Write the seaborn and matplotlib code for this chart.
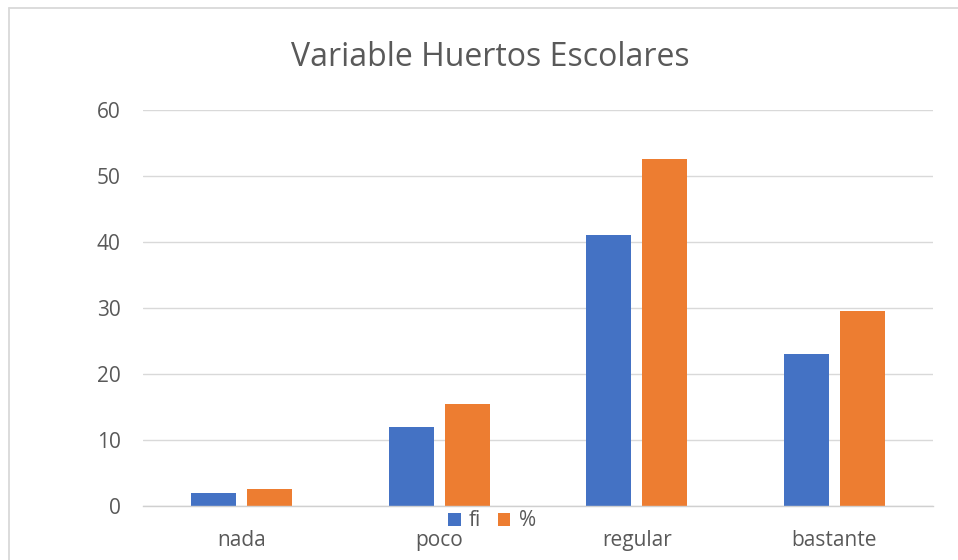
import matplotlib
matplotlib.use("Agg")
import matplotlib.pyplot as plt
import seaborn as sns
import pandas as pd
from matplotlib.lines import Line2D
from matplotlib.patches import Patch

categories = ["nada", "poco", "regular", "bastante"]
fi_values = [2, 12, 41, 23]
pct_values = [2.56, 15.38, 52.56, 29.49]
series_names = ["fi", "%"]
y_ticks = [0, 10, 20, 30, 40, 50, 60]
title = "Variable Huertos Escolares"

colors = ["#4472C4", "#ED7D31"]
text_color = "#595959"

df = pd.DataFrame({
    "cat": categories * 2,
    "serie": [series_names[0]] * len(categories) + [series_names[1]] * len(categories),
    "val": fi_values + pct_values,
})

sns.set_theme(style="white")
plt.rcParams["font.family"] = ["Open Sans", "DejaVu Sans"]

fig = plt.figure(figsize=(9.58, 5.6), dpi=100)
ax = fig.add_axes([143 / 958, 1 - 506 / 560, 790 / 958, 396 / 560])

sns.barplot(data=df, x="cat", y="val", hue="serie", order=categories,
            hue_order=series_names, palette=colors, width=0.567, gap=0.196,
            saturation=1, ax=ax, legend=False, errorbar=None, linewidth=0)

ax.set_ylim(0, 60)
ax.set_xlim(-0.5, len(categories) - 0.5)
ax.set_yticks(y_ticks)
ax.set_xlabel("")
ax.set_ylabel("")
ax.yaxis.grid(True, color="#d9d9d9", linewidth=1.0)
ax.set_axisbelow(True)
for s in ["top", "right", "left"]:
    ax.spines[s].set_visible(False)
ax.spines["bottom"].set_color("#d0d0d0")
ax.spines["bottom"].set_linewidth(1.0)
ax.tick_params(axis="y", length=0, pad=16, labelsize=15, labelcolor=text_color)
ax.tick_params(axis="x", length=0, pad=17, labelsize=15, labelcolor=text_color)

fig.text(490 / 958, 1 - 57 / 560, title, ha="center", va="center",
         fontsize=23, color=text_color)

handles = [Patch(facecolor=c, edgecolor="none") for c in colors]
leg = fig.legend(handles, series_names, loc="center", bbox_to_anchor=(492 / 958, 1 - 521 / 560),
                 ncol=2, frameon=False, fontsize=15, handlelength=0.6, handleheight=0.6,
                 handletextpad=0.4, columnspacing=0.8, labelcolor=text_color)

# chart area border (top and left edges visible)
fig.add_artist(Line2D([8.5 / 958, 8.5 / 958], [0, 1 - 7.5 / 560], transform=fig.transFigure,
                      color="#d9d9d9", linewidth=1.3))
fig.add_artist(Line2D([8.5 / 958, 1], [1 - 7.5 / 560, 1 - 7.5 / 560], transform=fig.transFigure,
                      color="#d9d9d9", linewidth=1.3))

fig.savefig("out.png", dpi=100)
